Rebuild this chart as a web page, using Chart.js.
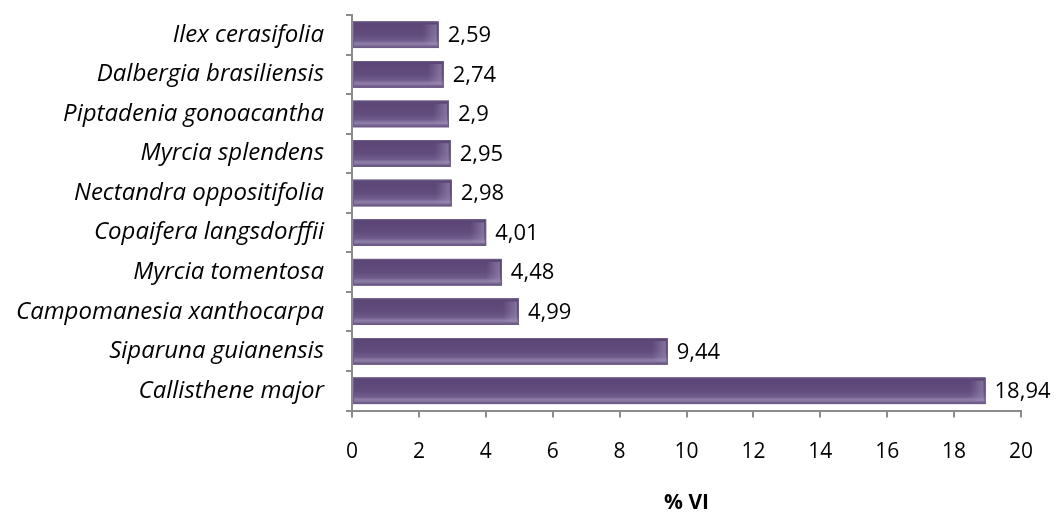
<!DOCTYPE html>
<html>
<head>
<meta charset="utf-8">
<script src="https://cdn.jsdelivr.net/npm/chart.js@4/dist/chart.umd.min.js"></script>
<style>
  html, body { margin: 0; padding: 0; background: #fff; }
  #wrap { width: 1059px; height: 516px; }
</style>
</head>
<body>
<div id="wrap"><canvas id="viChart"></canvas></div>
<script>
// Species, top to bottom, and their importance value (%)
const species = [
  'Ilex cerasifolia',
  'Dalbergia brasiliensis',
  'Piptadenia gonoacantha',
  'Myrcia splendens',
  'Nectandra oppositifolia',
  'Copaifera langsdorffii',
  'Myrcia tomentosa',
  'Campomanesia xanthocarpa',
  'Siparuna guianensis',
  'Callisthene major'
];
const viValues = [2.59, 2.74, 2.9, 2.95, 2.98, 4.01, 4.48, 4.99, 9.44, 18.94];
const valueLabels = ['2,59', '2,74', '2,9', '2,95', '2,98', '4,01', '4,48', '4,99', '9,44', '18,94'];
const axisTitle = '% VI';

const FONT = "'Open Sans', sans-serif";

// Shades each bar with a soft bevel and writes its value on the right
const barShading = {
  id: 'barShading',
  afterDatasetsDraw(chart) {
    const ctx = chart.ctx;
    const meta = chart.getDatasetMeta(0);
    ctx.save();
    meta.data.forEach((bar, i) => {
      const left = Math.min(bar.base, bar.x);
      const right = Math.max(bar.base, bar.x);
      const top = bar.y - bar.height / 2;
      const h = bar.height;
      const w = right - left;

      const g = ctx.createLinearGradient(0, top, 0, top + h);
      g.addColorStop(0, '#5a4575');
      g.addColorStop(0.5, '#614c7e');
      g.addColorStop(0.72, '#6f5c8c');
      g.addColorStop(0.84, '#907fa9');
      g.addColorStop(0.92, '#7d6b96');
      g.addColorStop(1, '#574370');
      ctx.fillStyle = g;
      ctx.fillRect(left, top, w, h);

      // lighter cap at the right end
      const capW = Math.min(16, w * 0.3);
      const gc = ctx.createLinearGradient(right - capW, 0, right, 0);
      gc.addColorStop(0, 'rgba(160,145,185,0)');
      gc.addColorStop(0.7, 'rgba(160,145,185,0.45)');
      gc.addColorStop(1, 'rgba(150,135,178,0.7)');
      ctx.fillStyle = gc;
      ctx.fillRect(right - capW, top + 3, capW - 2, h - 6);

      ctx.strokeStyle = '#6e5c89';
      ctx.lineWidth = 1;
      ctx.strokeRect(left + 0.5, top + 0.5, w - 1, h - 1);

      ctx.fillStyle = '#000';
      ctx.font = '22px ' + FONT;
      ctx.textAlign = 'left';
      ctx.textBaseline = 'middle';
      ctx.fillText(valueLabels[i], right + 9, bar.y + 1);
    });
    ctx.restore();
  }
};

new Chart(document.getElementById('viChart'), {
  type: 'bar',
  data: {
    labels: species,
    datasets: [{
      data: viValues,
      backgroundColor: '#604b7c',
      barPercentage: 0.67,
      categoryPercentage: 1
    }]
  },
  options: {
    indexAxis: 'y',
    responsive: true,
    maintainAspectRatio: false,
    animation: false,
    layout: { padding: { top: 15, right: 38, bottom: 0, left: 0 } },
    plugins: {
      legend: { display: false },
      tooltip: { enabled: false }
    },
    scales: {
      x: {
        min: 0,
        max: 20,
        ticks: {
          stepSize: 2,
          color: '#000',
          padding: 22,
          font: { family: FONT, size: 21 }
        },
        grid: {
          drawOnChartArea: false,
          tickLength: 7,
          color: '#8c8c8c',
          lineWidth: 2
        },
        border: { color: '#8c8c8c', width: 2 },
        title: {
          display: true,
          text: axisTitle,
          color: '#000',
          font: { family: FONT, size: 21, weight: 'bold' },
          padding: { top: 4, bottom: 0 }
        }
      },
      y: {
        afterFit(scale) {
          scale.width = 352;
          scale.paddingTop = 0;
          scale.paddingBottom = 0;
        },
        ticks: {
          color: '#000',
          padding: 22,
          font: { family: FONT, size: 24, style: 'italic' }
        },
        grid: {
          offset: true,
          drawOnChartArea: false,
          tickLength: 6,
          color: '#8c8c8c',
          lineWidth: 2
        },
        border: { color: '#8c8c8c', width: 2 }
      }
    }
  },
  plugins: [barShading]
});
</script>
</body>
</html>
